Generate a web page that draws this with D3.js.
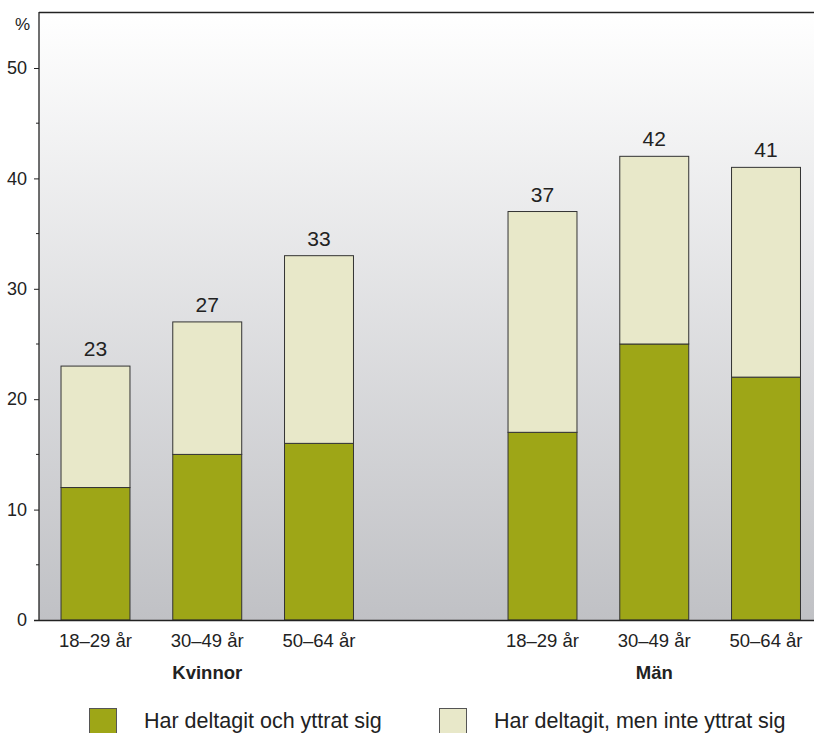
<!DOCTYPE html>
<html><head><meta charset="utf-8">
<script src="https://cdn.jsdelivr.net/npm/d3@7"></script>
<style>body{margin:0;background:#fff}svg{display:block}text{font-family:"Liberation Sans",Arial,sans-serif;fill:#222}</style>
</head><body><svg id="c" width="814" height="733"></svg>
<script>
const slots = ["K1","K2","K3","gap","M1","M2","M3"];
const ageLabels = ["18–29 år","30–49 år","50–64 år","","18–29 år","30–49 år","50–64 år"];
const groupLabels = ["Kvinnor","Män"];
const groupCenter = ["K2","M2"];
const spoke = [12,15,16,null,17,25,22];
const total = [23,27,33,null,37,42,41];
const seriesNames = ["Har deltagit och yttrat sig","Har deltagit, men inte yttrat sig"];
const colors = ["#9ea617","#e8e8c9"];
const yTicks = [0,10,20,30,40,50];
const yMinor = [5,15,25,35,45];

const svg = d3.select("#c");
const L=39, R=822.5, T=12, B=620;
const x = d3.scaleBand().domain(slots).range([L,R]).paddingInner(0.383).paddingOuter(0.197);
const y = d3.scaleLinear().domain([0,55]).range([B,B-(55/50)*(B-68)]);

const defs = svg.append("defs");
const g = defs.append("linearGradient").attr("id","bg").attr("x1",0).attr("y1",0).attr("x2",0).attr("y2",1);
g.append("stop").attr("offset","0").attr("stop-color","#ffffff");
g.append("stop").attr("offset","1").attr("stop-color","#c0c1c5");
svg.append("rect").attr("x",L).attr("y",T).attr("width",R-L).attr("height",B-T).attr("fill","url(#bg)");

const data = slots.map((s,i)=>({s,i,a:spoke[i],t:total[i]})).filter(d=>d.a!=null);
svg.selectAll("rect.a").data(data).enter().append("rect")
 .attr("x",d=>x(d.s)).attr("width",x.bandwidth())
 .attr("y",d=>y(d.a)).attr("height",d=>y(0)-y(d.a))
 .attr("fill",colors[0]).attr("stroke","#333").attr("stroke-width",1);
svg.selectAll("rect.b").data(data).enter().append("rect")
 .attr("x",d=>x(d.s)).attr("width",x.bandwidth())
 .attr("y",d=>y(d.t)).attr("height",d=>y(d.a)-y(d.t))
 .attr("fill",colors[1]).attr("stroke","#333").attr("stroke-width",1);
svg.selectAll("text.v").data(data).enter().append("text")
 .attr("x",d=>x(d.s)+x.bandwidth()/2).attr("y",d=>y(d.t)-10)
 .attr("text-anchor","middle").attr("font-size",21).text(d=>d.t);

svg.append("line").attr("x1",L).attr("x2",R).attr("y1",T+0.5).attr("y2",T+0.5).attr("stroke","#222").attr("stroke-width",1.3);
svg.append("line").attr("x1",L-5).attr("x2",R).attr("y1",B+0.5).attr("y2",B+0.5).attr("stroke","#222").attr("stroke-width",1.3);

const ax = svg.append("g").attr("transform",`translate(${L},0)`).call(d3.axisLeft(y).tickValues(yTicks).tickSize(5).tickPadding(7).tickFormat(d3.format("d")));
ax.select(".domain").attr("d",`M0,${T}V${B}`).attr("stroke","#222").attr("stroke-width",1.3);
ax.selectAll(".tick line").attr("stroke","#222");
ax.selectAll(".tick text").attr("font-size",18).attr("fill","#222").style("font-family","Liberation Sans, Arial, sans-serif");
svg.append("g").selectAll("line").data(yMinor).enter().append("line")
 .attr("x1",L-3).attr("x2",L).attr("y1",d=>y(d)).attr("y2",d=>y(d)).attr("stroke","#222");
svg.append("text").attr("x",22.5).attr("y",30).attr("text-anchor","middle").attr("font-size",17).text("%");

svg.selectAll("text.age").data(slots.filter((s,i)=>ageLabels[i])).enter().append("text")
 .attr("x",s=>x(s)+x.bandwidth()/2).attr("y",647).attr("text-anchor","middle").attr("font-size",18.5)
 .text(s=>ageLabels[slots.indexOf(s)]);
svg.selectAll("text.grp").data(groupLabels).enter().append("text")
 .attr("x",(d,i)=>x(groupCenter[i])+x.bandwidth()/2).attr("y",679).attr("text-anchor","middle")
 .attr("font-size",18.5).attr("font-weight","bold").text(d=>d);

const legX=[89,439], legT=[144,494];
seriesNames.forEach((n,i)=>{
 svg.append("rect").attr("x",legX[i]+0.5).attr("y",708.5).attr("width",27).attr("height",30).attr("fill",colors[i]).attr("stroke","#555");
 svg.append("text").attr("x",legT[i]).attr("y",728).attr("font-size",21.5).text(n);
});
</script></body></html>
